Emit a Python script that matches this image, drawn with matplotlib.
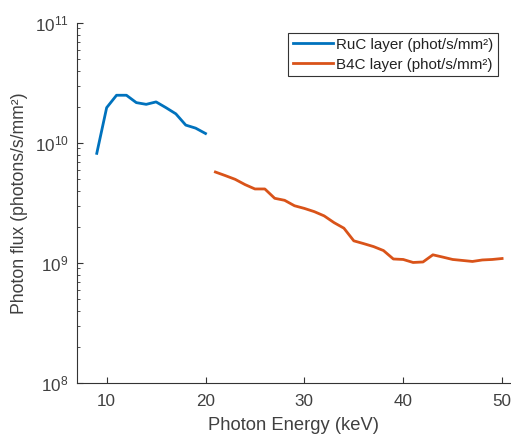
import matplotlib.pyplot as plt
from matplotlib.ticker import LogLocator, NullFormatter

plt.rcParams['font.family'] = ['Liberation Sans', 'DejaVu Sans']

# RuC layer
ruc_energy = [9, 10, 11, 12, 13, 14, 15, 16, 17, 18, 19, 20]
ruc_flux = [8.2e9, 1.97e10, 2.5e10, 2.5e10, 2.17e10, 2.1e10, 2.2e10,
            1.97e10, 1.75e10, 1.41e10, 1.33e10, 1.2e10]

# B4C layer
b4c_energy = list(range(21, 51))
b4c_flux = [5.73e9, 5.35e9, 4.98e9, 4.5e9, 4.14e9, 4.14e9, 3.46e9, 3.33e9,
            3.0e9, 2.85e9, 2.68e9, 2.47e9, 2.17e9, 1.95e9, 1.53e9, 1.45e9,
            1.37e9, 1.27e9, 1.08e9, 1.07e9, 1.01e9, 1.02e9, 1.17e9, 1.12e9,
            1.07e9, 1.05e9, 1.03e9, 1.06e9, 1.07e9, 1.09e9]

txt = '#404040'

fig = plt.figure(figsize=(5.11, 4.36), dpi=100)
ax = fig.add_axes([77 / 511, 53 / 436, 433 / 511, 360 / 436])

ax.plot(ruc_energy, ruc_flux, color='#0072BD', lw=2,
        label='RuC layer (phot/s/mm²)')
ax.plot(b4c_energy, b4c_flux, color='#D95319', lw=2,
        label='B4C layer (phot/s/mm²)')

ax.set_yscale('log')
ax.set_ylim(1e8, 1e11)
ax.set_xlim(7, 50.8)
ax.set_xticks([10, 20, 30, 40, 50])
ax.yaxis.set_minor_locator(LogLocator(base=10, subs=range(2, 10)))
ax.yaxis.set_minor_formatter(NullFormatter())

for s in ['top', 'right']:
    ax.spines[s].set_visible(False)
for s in ['left', 'bottom']:
    ax.spines[s].set_color('#333333')
    ax.spines[s].set_linewidth(0.8)
ax.tick_params(which='both', direction='in', color='#333333',
               labelcolor=txt, labelsize=12.3)
ax.tick_params(which='major', length=4)
ax.tick_params(which='minor', length=2)
ax.tick_params(axis='x', pad=8)
ax.tick_params(axis='y', pad=6)

ax.set_xlabel('Photon Energy (keV)', fontsize=13.2, color=txt, labelpad=6)
ax.set_ylabel('Photon flux (photons/s/mm²)', fontsize=12.7, color=txt)
ax.yaxis.set_label_coords(-0.113, 0.5)

leg = ax.legend(loc='upper right', bbox_to_anchor=(0.972, 0.972),
                borderaxespad=0, fontsize=10.9, fancybox=False,
                framealpha=1, edgecolor='#333333', handlelength=2.65,
                borderpad=0.3, labelspacing=0.4, handletextpad=0.2)
leg.get_frame().set_linewidth(0.8)
for t in leg.get_texts():
    t.set_color('#222222')

fig.savefig('out.png', dpi=100)
